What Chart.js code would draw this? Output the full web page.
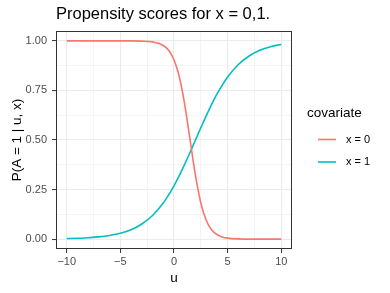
<!DOCTYPE html>
<html>
<head>
<meta charset="utf-8">
<script src="https://cdn.jsdelivr.net/npm/chart.js@4"></script>
<style>
  html, body { margin: 0; padding: 0; background: #fff; }
  #wrap { width: 390px; height: 293px; }
</style>
</head>
<body>
<div id="wrap"><canvas id="propChart" width="390" height="293"></canvas></div>
<script>
// values
const uValues = [-10, -9, -8, -7, -6, -5, -4, -3, -2, -1, -0.5, 0, 0.5, 1, 1.5, 2, 2.5, 3, 3.5, 4, 4.5, 5, 6, 7, 8, 9, 10];
const covariate0 = [1.000, 1.000, 1.000, 1.000, 1.000, 1.000, 1.000, 0.999, 0.995, 0.977, 0.953, 0.905, 0.818, 0.679, 0.500, 0.321, 0.182, 0.095, 0.047, 0.023, 0.011, 0.005, 0.001, 0.000, 0.000, 0.000, 0.000];
const covariate1 = [0.003, 0.004, 0.007, 0.011, 0.018, 0.029, 0.047, 0.076, 0.119, 0.182, 0.223, 0.269, 0.321, 0.378, 0.438, 0.500, 0.562, 0.622, 0.679, 0.731, 0.777, 0.818, 0.881, 0.924, 0.953, 0.971, 0.982];
const seriesLabels = ['x = 0', 'x = 1'];
const xTicks = [-10, -5, 0, 5, 10];
const yTicks = [0, 0.25, 0.5, 0.75, 1];

const FONT = '"Liberation Sans", Arial, sans-serif';
const RED = '#F8766D';
const TEAL = '#00BFC4';

function toPoints(ys) {
    return uValues.map((u, i) => ({ x: u, y: ys[i] }));
}

function isMajor(v, list) {
    return list.some(t => Math.abs(t - v) < 1e-9);
}

// major ticks plus the minor ones halfway between them
function withMinor(list) {
    const out = [];
    list.forEach((v, i) => {
        out.push({ value: v });
        if (i < list.length - 1) out.push({ value: (v + list[i + 1]) / 2 });
    });
    return out;
}

const decorPlugin = {
    id: 'decor',
    afterDraw(chart) {
        const ctx = chart.ctx;
        const a = chart.chartArea;
        ctx.save();
        // panel border
        ctx.strokeStyle = '#333333';
        ctx.lineWidth = 1;
        ctx.strokeRect(a.left + 0.5, a.top + 0.5, a.right - a.left - 1, a.bottom - a.top - 1);

        // title
        ctx.fillStyle = '#000';
        ctx.font = '16.5px ' + FONT;
        ctx.textAlign = 'left';
        ctx.textBaseline = 'alphabetic';
        ctx.fillText('Propensity scores for x = 0,1.', a.left, 19);

        // axis titles
        ctx.font = '13.5px ' + FONT;
        ctx.textAlign = 'center';
        ctx.fillText('u', (a.left + a.right) / 2, 282);
        ctx.save();
        ctx.translate(21, (a.top + a.bottom) / 2);
        ctx.rotate(-Math.PI / 2);
        ctx.fillText('P(A = 1 | u, x)', 0, 0);
        ctx.restore();

        // legend
        ctx.textAlign = 'left';
        ctx.font = '13.5px ' + FONT;
        ctx.fillText('covariate', 307, 117);
        ctx.font = '11px ' + FONT;
        const rows = [139.5, 162];
        chart.data.datasets.forEach((ds, i) => {
            ctx.strokeStyle = ds.borderColor;
            ctx.lineWidth = 1.6;
            ctx.beginPath();
            ctx.moveTo(318, rows[i]);
            ctx.lineTo(336, rows[i]);
            ctx.stroke();
            ctx.fillStyle = '#000';
            ctx.textBaseline = 'middle';
            ctx.fillText(ds.label, 346, rows[i]);
        });
        ctx.restore();
    }
};

const ctx = document.getElementById('propChart').getContext('2d');
new Chart(ctx, {
    type: 'line',
    data: {
        datasets: [{
            label: seriesLabels[0],
            data: toPoints(covariate0),
            borderColor: RED,
            borderWidth: 1.6,
            pointRadius: 0,
            cubicInterpolationMode: 'monotone',
            fill: false
        }, {
            label: seriesLabels[1],
            data: toPoints(covariate1),
            borderColor: TEAL,
            borderWidth: 1.6,
            pointRadius: 0,
            cubicInterpolationMode: 'monotone',
            fill: false
        }]
    },
    options: {
        responsive: false,
        animation: false,
        layout: {
            padding: { top: 31, right: 98, left: 0, bottom: 0 }
        },
        plugins: {
            legend: { display: false },
            title: { display: false },
            tooltip: { enabled: false }
        },
        scales: {
            x: {
                type: 'linear',
                min: -11,
                max: 11,
                afterFit(scale) { scale.height = 44; },
                afterBuildTicks(scale) { scale.ticks = withMinor(xTicks); },
                border: { display: false },
                grid: {
                    color: '#EBEBEB',
                    lineWidth: c => isMajor(c.tick.value, xTicks) ? 1.1 : 0.55,
                    drawTicks: true,
                    tickLength: 4,
                    tickColor: c => isMajor(c.tick.value, xTicks) ? '#333333' : 'rgba(0,0,0,0)',
                    tickWidth: 1
                },
                ticks: {
                    padding: 2,
                    maxRotation: 0,
                    autoSkip: false,
                    color: '#4D4D4D',
                    font: { family: FONT, size: 11 },
                    callback: v => isMajor(v, xTicks) ? String(v).replace('-', '\u2212') : ''
                }
            },
            y: {
                min: -0.05,
                max: 1.05,
                afterFit(scale) { scale.width = 56; },
                afterBuildTicks(scale) { scale.ticks = withMinor(yTicks); },
                border: { display: false },
                grid: {
                    color: '#EBEBEB',
                    lineWidth: c => isMajor(c.tick.value, yTicks) ? 1.1 : 0.55,
                    drawTicks: true,
                    tickLength: 4,
                    tickColor: c => isMajor(c.tick.value, yTicks) ? '#333333' : 'rgba(0,0,0,0)',
                    tickWidth: 1
                },
                ticks: {
                    padding: 5,
                    autoSkip: false,
                    color: '#4D4D4D',
                    font: { family: FONT, size: 11 },
                    callback: v => isMajor(v, yTicks) ? v.toFixed(2) : ''
                }
            }
        }
    },
    plugins: [decorPlugin]
});
</script>
</body>
</html>
